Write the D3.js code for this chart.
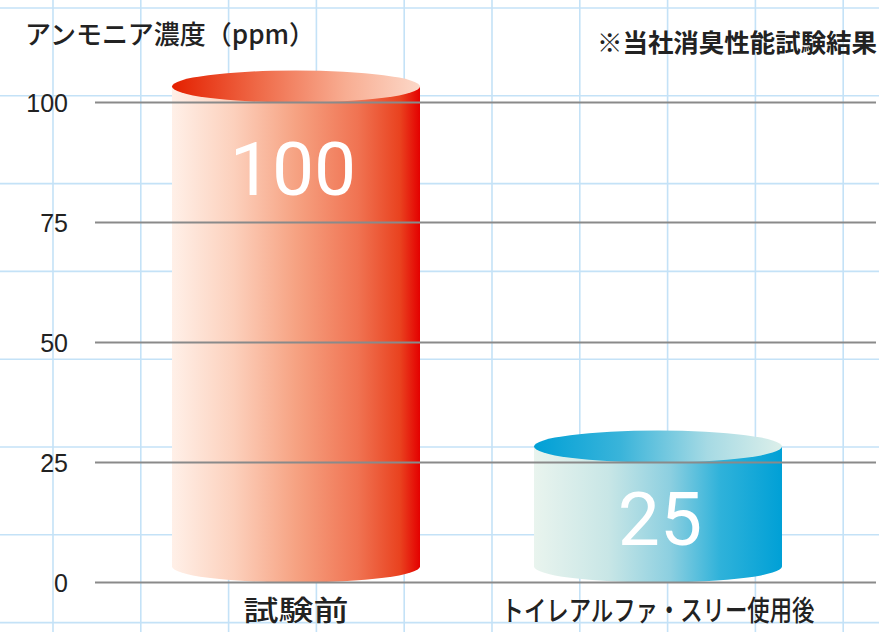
<!DOCTYPE html>
<html>
<head>
<meta charset="utf-8">
<script src="https://cdn.jsdelivr.net/npm/d3@7"></script>
<style>
  body { margin: 0; background: #fff; }
  svg { display: block; }
</style>
</head>
<body>
<svg id="chart"></svg>
<script>
// Data
const categories = ["試験前", "トイレアルファ・スリー使用後"];
const values = [100, 25];
const yTicks = [0, 25, 50, 75, 100];
const yTitle = "アンモニア濃度（ppm）";
const note = "※当社消臭性能試験結果";

// Chart configuration
const W = 879, H = 632;
const svg = d3.select("#chart").attr("width", W).attr("height", H);

const yScale = d3.scaleLinear().domain([0, 100]).range([582.5, 102.5]);
const xScale = d3.scalePoint().domain(categories).range([296, 658]);
const barW = 248;
const ry = 16;

// gradients
const defs = svg.append("defs");
function grad(id, stops) {
  const g = defs.append("linearGradient").attr("id", id)
    .attr("x1", "0%").attr("x2", "100%").attr("y1", "0%").attr("y2", "0%");
  stops.forEach(s => g.append("stop").attr("offset", s[0]).attr("stop-color", s[1]));
}
grad("redBody", [[0, "#fff0e8"], [0.25, "#fcd0bc"], [0.5, "#f6a282"], [0.75, "#f07352"], [0.92, "#e9421f"], [1, "#e40000"]]);
grad("redTop", [[0, "#e42000"], [0.35, "#ef6a48"], [0.7, "#f8ad92"], [1, "#fcd8c8"]]);
grad("blueBody", [[0, "#e9f4ee"], [0.3, "#c8e6e6"], [0.55, "#8ccfe0"], [0.75, "#2fb2da"], [1, "#00a0d6"]]);
grad("blueTop", [[0, "#00a0d6"], [0.35, "#3ab4da"], [0.7, "#a6dae4"], [1, "#dcefea"]]);
const fills = [["url(#redBody)", "url(#redTop)"], ["url(#blueBody)", "url(#blueTop)"]];

// Background graph paper
const cell = 87.8;
const gridG = svg.append("g").attr("stroke", "#c4e2f7").attr("stroke-width", 1.6);
d3.range(53, W, cell).forEach(x =>
  gridG.append("line").attr("x1", x).attr("x2", x).attr("y1", 0).attr("y2", H));
d3.range(8, H, cell).forEach(y =>
  gridG.append("line").attr("x1", 0).attr("x2", W).attr("y1", y).attr("y2", y));

// Cylinders
const cyl = svg.append("g");
categories.forEach((c, i) => {
  const cx = xScale(c);
  const left = cx - barW / 2, right = cx + barW / 2;
  const rx = barW / 2;
  const yTop = yScale(values[i]) - ry;
  const yBot = yScale(0) - ry;
  cyl.append("path")
    .attr("d", `M${left},${yTop} L${left},${yBot} A${rx},${ry} 0 0 0 ${right},${yBot} L${right},${yTop} Z`)
    .attr("fill", fills[i][0]);
  cyl.append("ellipse")
    .attr("cx", cx).attr("cy", yTop).attr("rx", rx).attr("ry", ry)
    .attr("fill", fills[i][1]);
});

// Value grid lines (on top of cylinders)
const lineG = svg.append("g");
yTicks.forEach(t => {
  lineG.append("line")
    .attr("x1", 95).attr("x2", 876)
    .attr("y1", yScale(t)).attr("y2", yScale(t))
    .attr("stroke", "#8a8a8a").attr("stroke-width", 1.8);
  lineG.append("text")
    .attr("x", 68).attr("y", yScale(t))
    .attr("dy", "0.36em")
    .attr("text-anchor", "end")
    .style("font-family", "'Liberation Sans', Arial, sans-serif")
    .style("font-size", "25px")
    .attr("fill", "#222")
    .text(t);
});

// Value labels
categories.forEach((c, i) => {
  svg.append("text")
    .attr("x", xScale(c) + (i === 0 ? -3 : 2))
    .attr("y", i === 0 ? 195 : 545)
    .attr("text-anchor", "middle")
    .style("font-family", "Roboto, 'Liberation Sans', sans-serif")
    .style("font-weight", 400)
    .style("font-size", "75px")
    .attr("fill", "#fff")
    .text(values[i]);
});

// Category labels (squeezed horizontally to the reference widths)
const labelWidths = [105, 313];
categories.forEach((c, i) => {
  const g = svg.append("g").attr("transform", `translate(${xScale(c)},621)`);
  const t = g.append("text")
    .attr("text-anchor", "middle")
    .style("font-family", "'Noto Sans CJK JP', sans-serif")
    .style("font-size", "28px")
    .style("font-weight", 500)
    .attr("fill", "#222")
    .text(c);
  const w = t.node().getComputedTextLength();
  t.attr("transform", `scale(${labelWidths[i] / w},1)`);
});

// Axis title & note
svg.append("text")
  .attr("x", 25).attr("y", 44)
  .style("font-family", "'Noto Sans CJK JP', sans-serif")
  .style("font-size", "26px")
  .style("font-weight", 500)
  .attr("fill", "#222")
  .attr("textLength", 290).attr("lengthAdjust", "spacingAndGlyphs")
  .text(yTitle);

svg.append("text")
  .attr("x", 597).attr("y", 52)
  .style("font-family", "'Noto Sans CJK JP', sans-serif")
  .style("font-size", "25px")
  .style("font-weight", 700)
  .attr("fill", "#222")
  .attr("textLength", 280).attr("lengthAdjust", "spacingAndGlyphs")
  .text(note);
</script>
</body>
</html>
